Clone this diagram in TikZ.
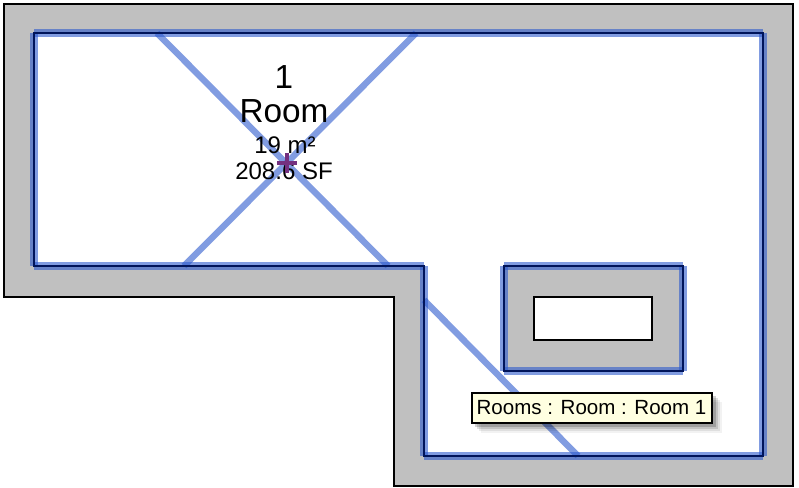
\documentclass[tikz,border=0pt]{standalone}
\usepackage{fontspec}
\setmainfont{Liberation Sans}
\begin{document}
\begin{tikzpicture}[x=0.75pt,y=-0.75pt]
            \tikzstyle{myWall}=[draw=black,line width=2.2pt,fill=wallGray];
            \tikzstyle{myBand}=[line width=6pt,draw=bandBlue,opacity=0.6,line cap=square];
            \tikzstyle{myDiag}=[line width=4.8pt,draw=bandBlue,opacity=0.6];
            \tikzstyle{myCore}=[line width=1.6pt,draw=coreBlue];
            \definecolor{wallGray}{HTML}{C0C0C0}
            \definecolor{bandBlue}{RGB}{45,90,205}
            \definecolor{coreBlue}{HTML}{00145A}
            \definecolor{tipYellow}{HTML}{FFFFE1}
            \definecolor{markPurple}{HTML}{74307F}
            \useasboundingbox (0,0) rectangle (799,488);
            \fill[white] (0,0) rectangle (799,488);
            % walls
            \draw[myWall] (4,4) -- (793,4) -- (793,486) -- (394,486) -- (394,297) -- (4,297) -- cycle;
            \fill[white] (34,33) -- (763,33) -- (763,456) -- (424,456) -- (424,266) -- (34,266) -- cycle;
            \fill[wallGray] (504,266) rectangle (683,371);
            \draw[draw=black,line width=2.2pt,fill=white] (534,297) rectangle (652,340);
            % boundary corners
            \coordinate (tl) at (34,33);
            \coordinate (tr) at (763,33);
            \coordinate (br) at (763,456);
            \coordinate (bm) at (424,456);
            \coordinate (nk) at (424,266);
            \coordinate (bl) at (34,266);
            \coordinate (pa) at (504,266);
            \coordinate (pb) at (683,266);
            \coordinate (pc) at (683,371);
            \coordinate (pd) at (504,371);
            % diagonals
            \coordinate (da) at (157,33);
            \coordinate (db) at (388,266);
            \coordinate (dc) at (416,33);
            \coordinate (dd) at (184,266);
            \coordinate (de) at (424,300);
            \coordinate (df) at (578,456);
            \draw[myDiag] (da) -- (db);
            \draw[myDiag] (dc) -- (dd);
            \draw[myDiag] (de) -- (df);
            % bands
            \draw[myBand] (tl) -- (tr);
            \draw[myBand] (tr) -- (br);
            \draw[myBand] (br) -- (bm);
            \draw[myBand] (bm) -- (nk);
            \draw[myBand] (nk) -- (bl);
            \draw[myBand] (bl) -- (tl);
            \draw[myBand] (pa) -- (pb);
            \draw[myBand] (pb) -- (pc);
            \draw[myBand] (pc) -- (pd);
            \draw[myBand] (pd) -- (pa);
            \draw[myCore] (tl) -- (tr) -- (br) -- (bm) -- (nk) -- (bl) -- cycle;
            \draw[myCore] (pa) -- (pb) -- (pc) -- (pd) -- cycle;
            % room tag
            \node[font=\fontsize{25}{25}\selectfont] (tagNum) at (284,77) {1};
            \node[font=\fontsize{25}{25}\selectfont] (tagName) at (284,111) {Room};
            \node[font=\fontsize{18}{18}\selectfont] (tagArea) at (285,145) {19 m²};
            \node[font=\fontsize{18}{18}\selectfont] (tagSF) at (284,171) {208.6 SF};
            \draw[markPurple,line width=3pt] (277,163) -- (297,163) (287,153) -- (287,173);
            % tooltip
            \foreach \off/\op in {10/0.05,8/0.08,6/0.12,4/0.18}
                \fill[black,opacity=\op] (471+\off,392+\off) rectangle (712+\off,423+\off);
            \node[draw=black,line width=1.5pt,fill=tipYellow,minimum width=180pt,minimum height=23pt,inner sep=0pt,font=\fontsize{15.4}{16}\selectfont] (tip) at (591.5,408) {Rooms : Room : Room 1};
         \end{tikzpicture}
\end{document}
